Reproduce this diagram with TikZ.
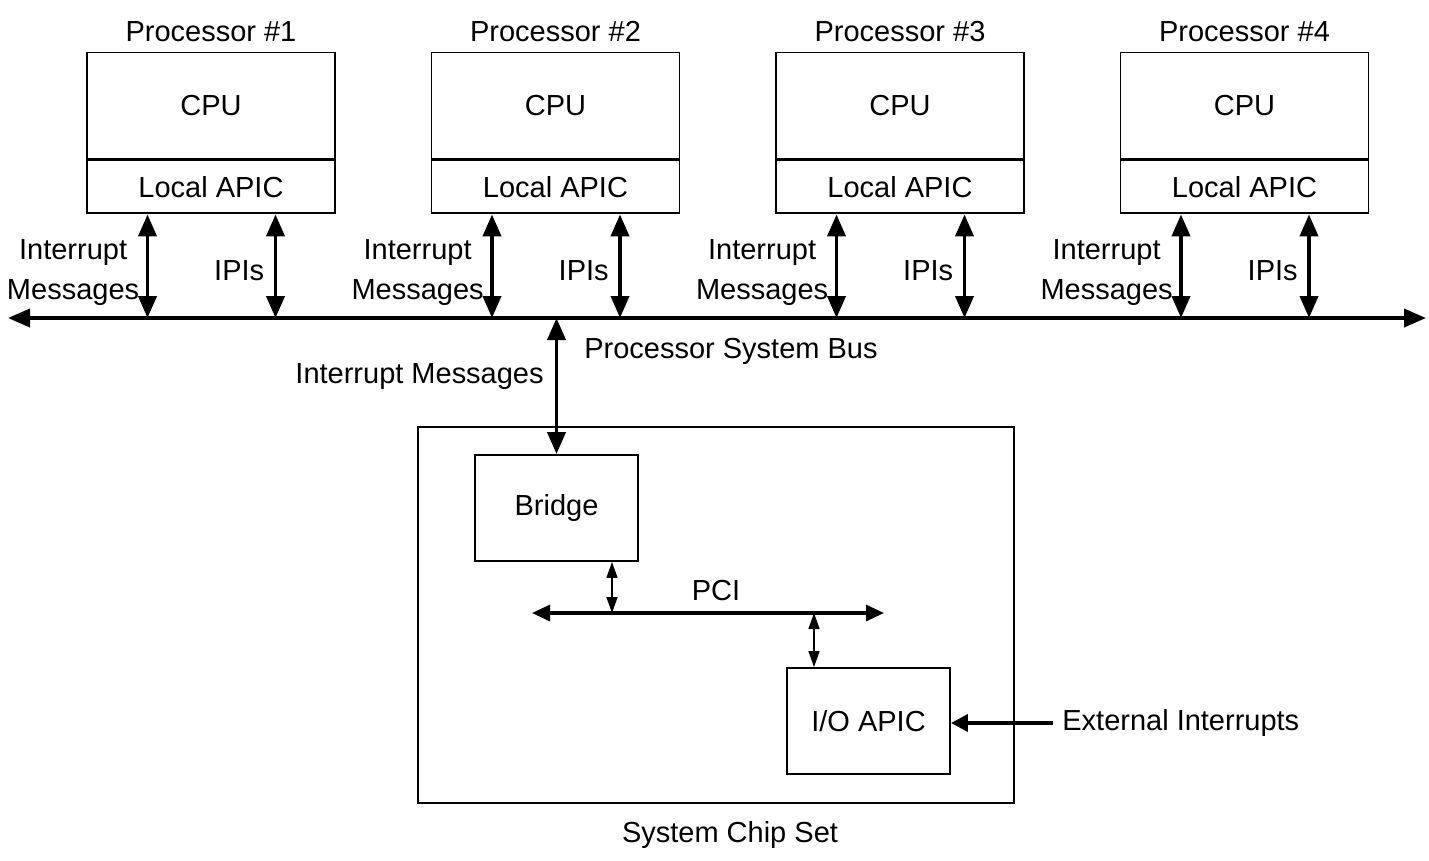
\documentclass[tikz,border=0pt]{standalone}
\usepackage{fontspec}
\setmainfont{Liberation Sans}
\usepackage{tikz}
\usetikzlibrary{arrows.meta, positioning, calc}
\begin{document}
\begin{tikzpicture}[font=\fontsize{16.5}{22.7}\selectfont,
            box/.style={draw, line width=1.1pt, rectangle, minimum width=4.96cm, align=center},
            lbl/.style={inner sep=0pt, align=center},
            bus/.style={{Triangle[length=0.44cm, width=0.36cm]}-{Triangle[length=0.44cm, width=0.36cm]}, line width=2.2pt},
            pcibus/.style={{Triangle[length=0.36cm, width=0.32cm]}-{Triangle[length=0.36cm, width=0.32cm]}, line width=1.8pt},
            link/.style={{Triangle[length=0.32cm, width=0.22cm]}-{Triangle[length=0.32cm, width=0.22cm]}, line width=0.9pt},
            extarrow/.style={-{Triangle[length=0.34cm, width=0.34cm]}, line width=2.2pt}]

            \useasboundingbox (0,0) rectangle (28.58,-17.2);

            \foreach \i/\x in {1/4.22, 2/11.11, 3/18.00, 4/24.89} {
                \node[box, minimum height=2.12cm] (cpu\i) at (\x,-2.11) {CPU};
                \node[box, minimum height=1.06cm, below=0pt of cpu\i] (apic\i) {Local APIC};
                \node[lbl] (title\i) at (\x,-0.64) {Processor \#\i};
            }

            \coordinate (busL) at (0.16,-6.36);
            \coordinate (busR) at (28.52,-6.36);
            \draw[bus] (busL) -- (busR);

            \foreach \i in {1,...,4} {
                \draw[bus] ([xshift=-1.27cm]apic\i.south) -- ([xshift=-1.27cm]apic\i.south |- busL);
                \draw[bus] ([xshift=1.29cm]apic\i.south) -- ([xshift=1.29cm]apic\i.south |- busL);
                \node[lbl, anchor=east] (imsg\i) at ($(apic\i.south)+(-1.43,-1.17)$) {Interrupt\\Messages};
                \node[lbl, anchor=east] (ipi\i) at ($(apic\i.south)+(1.07,-1.13)$) {IPIs};
            }

            \node[box, minimum width=11.92cm, minimum height=7.52cm] (chipset) at (14.32,-12.30) {};
            \node[box, minimum width=3.26cm, minimum height=2.12cm] (bridge) at (11.13,-10.16) {Bridge};
            \node[box, minimum width=3.26cm, minimum height=2.12cm] (ioapic) at (17.37,-14.42) {I/O APIC};
            \node[lbl] (chiplbl) at (14.6,-16.70) {System Chip Set};

            \draw[bus] (bridge.north |- busL) -- (bridge.north);
            \node[lbl, anchor=west] (psb) at (11.68,-7.02) {Processor System Bus};
            \node[lbl, anchor=east] (bmsg) at (10.88,-7.54) {Interrupt Messages};

            \coordinate (pciL) at (10.64,-12.26);
            \coordinate (pciR) at (17.68,-12.26);
            \draw[pcibus] (pciL) -- (pciR);
            \node[lbl] (pci) at (14.32,-11.82) {PCI};
            \draw[link] ([xshift=1.11cm]bridge.south) -- ([xshift=1.11cm]bridge.south |- pciL);
            \draw[link] ([xshift=-1.09cm]ioapic.north |- pciL) -- ([xshift=-1.09cm]ioapic.north);

            \node[anchor=west, inner sep=0.18cm] (ext) at (21.06,-14.46) {External Interrupts};
            \draw[extarrow] (ext.west) -- (ext.west -| ioapic.east);
        \end{tikzpicture}
\end{document}
